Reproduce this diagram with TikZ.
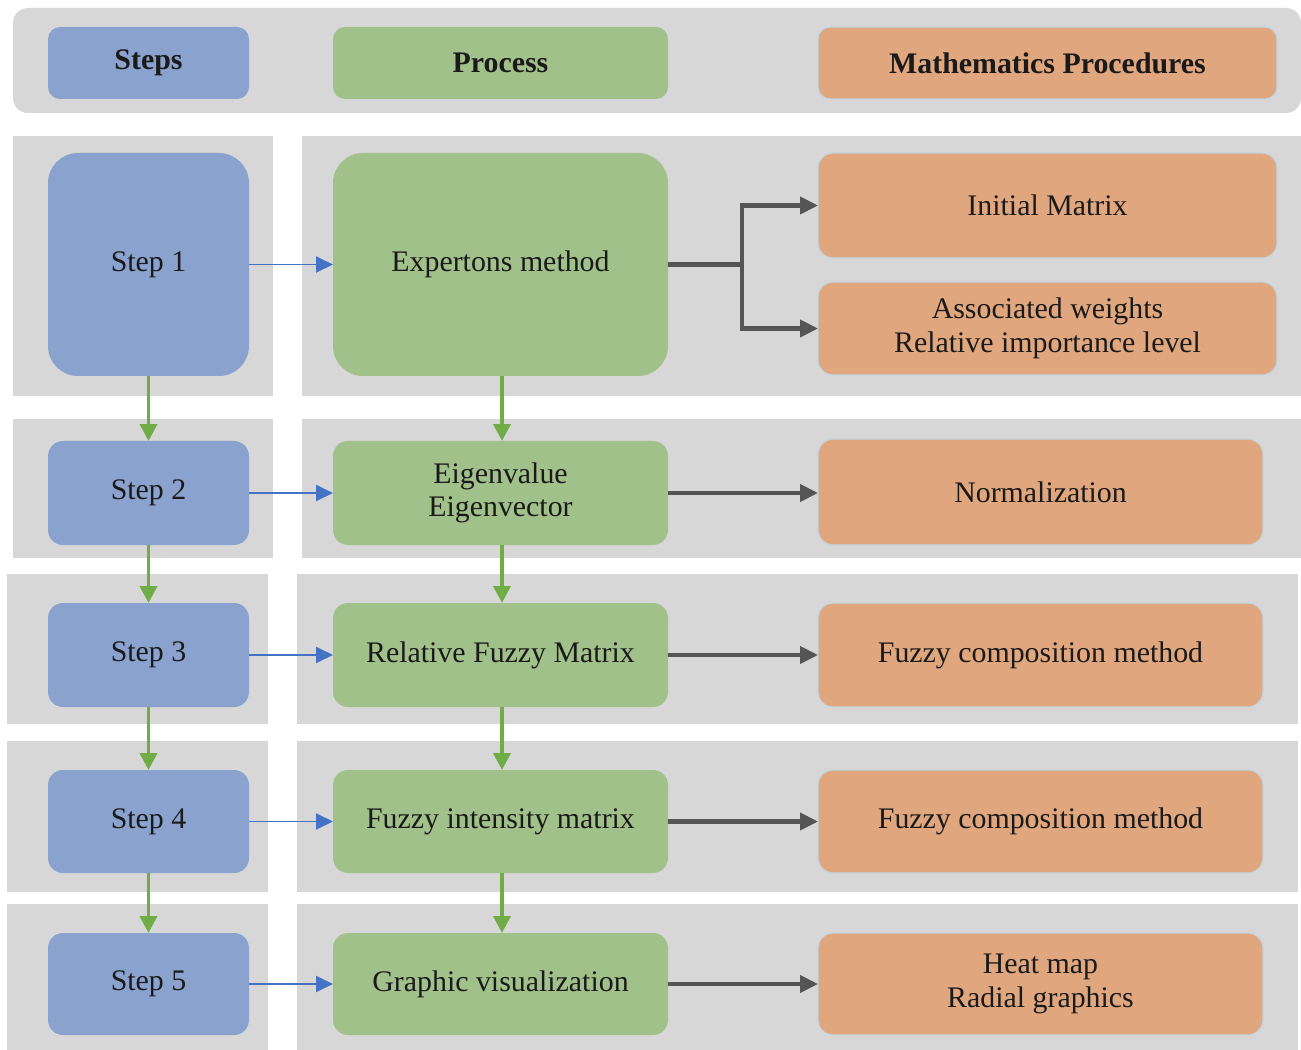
\documentclass[tikz,border=0pt]{standalone}
\usepackage{fontspec}
\setmainfont{Liberation Serif}
\usetikzlibrary{arrows.meta}
\definecolor{bgc}{HTML}{D7D7D7}
\definecolor{bluec}{HTML}{8AA3CE}
\definecolor{greenc}{HTML}{A1C18A}
\definecolor{orangec}{HTML}{E0A67E}
\definecolor{glowc}{HTML}{C3D6DF}
\definecolor{barr}{HTML}{4472C4}
\definecolor{garr}{HTML}{70AD47}
\definecolor{darr}{HTML}{555555}
\definecolor{txt}{HTML}{1A1A1A}
\newcommand\bx[7]{\node[#2, minimum width={(#5-#3)*0.02cm}, minimum height={(#6-#4)*0.02cm}] (#1) at ({(#3+#5)/2},{(#4+#6)/2}) {#7};}
\begin{document}
\begin{tikzpicture}[x=0.02cm,y=-0.02cm,
  box/.style={inner sep=0pt, outer sep=0pt, align=center, text=txt,
    font=\fontsize{17}{19}\selectfont},
  stepbox/.style={box, fill=bluec, rounded corners=0.3cm},
  procbox/.style={box, fill=greenc, rounded corners=0.3cm},
  mathbox/.style={box, fill=orangec, draw=glowc, line width=0.7pt, rounded corners=0.3cm},
  bigr/.style={rounded corners=0.6cm},
  headr/.style={rounded corners=0.24cm, font=\fontsize{17}{19}\selectfont\bfseries},
  bluearrow/.style={draw=barr, line width=1.1pt, -{Triangle[length=0.34cm,width=0.32cm]}},
  greenarrow/.style={draw=garr, line width=2.2pt, -{Triangle[length=0.34cm,width=0.34cm]}},
  grayarrow/.style={draw=darr, line width=2.3pt, -{Triangle[length=0.36cm,width=0.34cm]}},
  grayline/.style={draw=darr, line width=2.3pt}
]
\useasboundingbox (0,0) rectangle (1301,1050);
\fill[white] (0,0) rectangle (1301,1050);

% header band
\fill[bgc, rounded corners=0.3cm] (13,8) rectangle (1301,113);
% row backgrounds
\fill[bgc] (13,136) rectangle (273,396);
\fill[bgc] (302,136) rectangle (1301,396);
\fill[bgc] (13,419) rectangle (273,558);
\fill[bgc] (302,419) rectangle (1301,558);
\fill[bgc] (7,574) rectangle (268,724);
\fill[bgc] (297,574) rectangle (1298,724);
\fill[bgc] (7,741) rectangle (268,892);
\fill[bgc] (297,741) rectangle (1298,892);
\fill[bgc] (7,904) rectangle (268,1050);
\fill[bgc] (297,904) rectangle (1298,1050);

% header boxes
\bx{hs}{stepbox,headr}{48}{27}{249}{99}{Steps}
\bx{hp}{procbox,headr}{333}{27}{668}{99}{Process}
\bx{hm}{mathbox,headr}{818}{27}{1277}{99}{Mathematics Procedures}

% steps
\bx{s1}{stepbox,bigr}{48}{153}{249}{376}{Step 1}
\bx{s2}{stepbox}{48}{441}{249}{545}{Step 2}
\bx{s3}{stepbox}{48}{603}{249}{707}{Step 3}
\bx{s4}{stepbox}{48}{770}{249}{873}{Step 4}
\bx{s5}{stepbox}{48}{933}{249}{1035}{Step 5}

% process
\bx{p1}{procbox,bigr}{333}{153}{668}{376}{Expertons method}
\bx{p2}{procbox}{333}{441}{668}{545}{Eigenvalue\\Eigenvector}
\bx{p3}{procbox}{333}{603}{668}{707}{Relative Fuzzy Matrix}
\bx{p4}{procbox}{333}{770}{668}{873}{Fuzzy intensity matrix}
\bx{p5}{procbox}{333}{933}{668}{1035}{Graphic visualization}

% math
\bx{m1a}{mathbox}{818}{153}{1277}{258}{Initial Matrix}
\bx{m1b}{mathbox}{818}{282}{1277}{375}{Associated weights\\Relative importance level}
\bx{m2}{mathbox}{818}{439}{1263}{545}{Normalization}
\bx{m3}{mathbox}{818}{603}{1263}{707}{Fuzzy composition method}
\bx{m4}{mathbox}{818}{770}{1263}{873}{Fuzzy composition method}
\bx{m5}{mathbox}{818}{933}{1263}{1035}{Heat map\\Radial graphics}

% blue arrows
\foreach \i in {1,...,5} {\draw[bluearrow] (s\i.east) -- (p\i.west);}
% green arrows
\foreach \i/\j in {1/2,2/3,3/4,4/5} {
  \draw[greenarrow] (s\i.south) -- (s\j.north);
  \draw[greenarrow] ([xshift=0.03cm]p\i.south) -- ([xshift=0.03cm]p\j.north);
}
% gray arrows
\coordinate (br) at (742,264.5);
\draw[grayline] (p1.east) -- (br);
\draw[grayarrow] ([yshift=-0.04cm]br) |- (m1a.west);
\draw[grayarrow] ([yshift=0.04cm]br) |- (m1b.west);
\foreach \i in {2,...,5} {\draw[grayarrow] (p\i.east) -- (p\i.east -| m\i.west);}
\end{tikzpicture}
\end{document}
